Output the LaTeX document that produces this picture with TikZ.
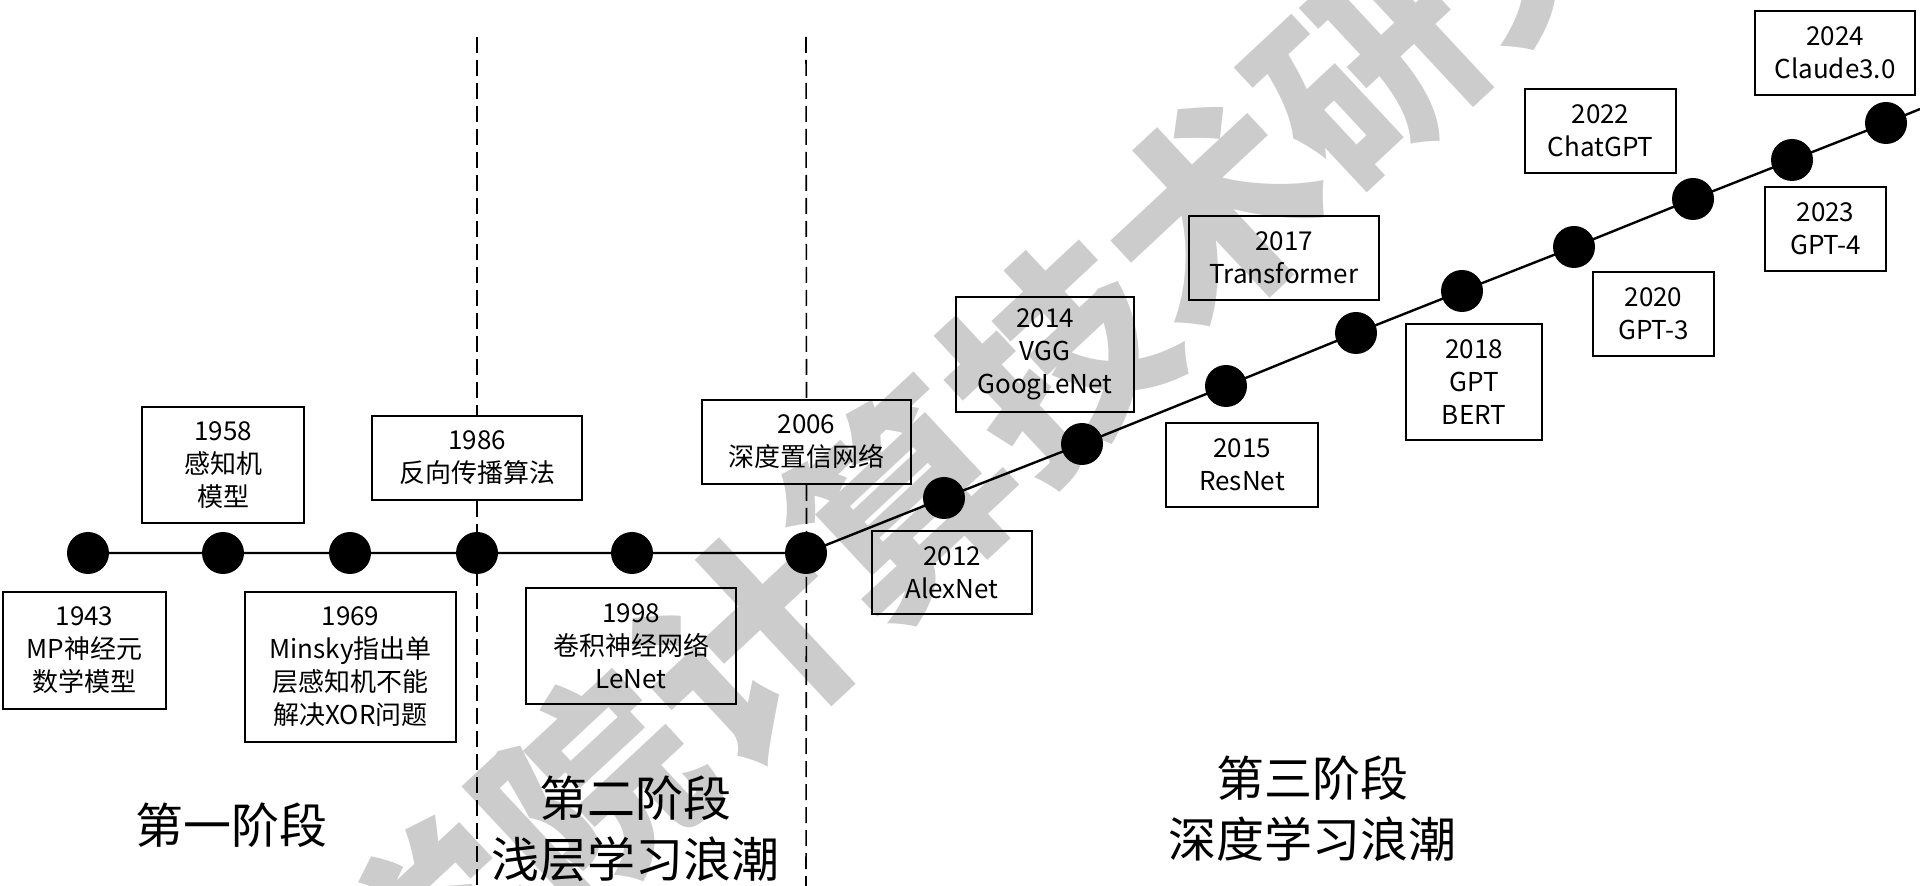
\documentclass[tikz,border=0pt]{standalone}
\usepackage{fontspec}
\setmainfont{Noto Sans CJK SC}
\definecolor{wm}{RGB}{204,204,204}
\begin{document}
\begin{tikzpicture}[x=0.5pt,y=-0.5pt,
  bx/.style n args={2}{draw, line width=1pt, align=center, inner sep=0pt,
     font=\fontsize{13}{16.5}\selectfont, minimum width=#1*0.5pt, minimum height=#2*0.5pt},
  dot/.style={circle, fill=black, minimum size=21pt, inner sep=0pt},
  tl/.style={line width=1.2pt},
  vline/.style={line width=0.8pt, dash pattern=on 8pt off 3.5pt},
  phase/.style={align=center, font=\fontsize{24}{30.5}\selectfont},
  wmark/.style={text=wm, font=\fontsize{106}{106}\selectfont\bfseries}]
\useasboundingbox (0,0) rectangle (1920,886);
% watermark
\node[wmark, rotate=43] (wmk) at (980,430) {科学院计算技术研究所};
% dots
\node[dot] (d1943) at (88,553) {};
\node[dot] (d1958) at (223,553) {};
\node[dot] (d1969) at (350,553) {};
\node[dot] (d1986) at (477,553) {};
\node[dot] (d1998) at (632,553) {};
\node[dot] (d2006) at (806,553) {};
\node[dot] (d2012) at (944,498) {};
\node[dot] (d2014) at (1082,444) {};
\node[dot] (d2015) at (1226,386) {};
\node[dot] (d2017) at (1356,333) {};
\node[dot] (d2018) at (1462,291) {};
\node[dot] (d2020) at (1574,247) {};
\node[dot] (d2022) at (1693,199) {};
\node[dot] (d2023) at (1792,160) {};
\node[dot] (d2024) at (1886,123) {};
\coordinate (tlend) at (1920,109);
% boxes
\node[bx={163}{117}] (b1943) at (84.5,650.5) {1943\\MP神经元\\数学模型};
\node[bx={162}{116}] (b1958) at (223,465) {1958\\感知机\\模型};
\node[bx={211}{150}] (b1969) at (350.5,667) {1969\\Minsky指出单\\层感知机不能\\解决XOR问题};
\node[bx={210}{84}] (b1986) at (477,458) {1986\\反向传播算法};
\node[bx={210}{116}] (b1998) at (631,646) {1998\\卷积神经网络\\LeNet};
\node[bx={209}{84}] (b2006) at (806.5,442) {2006\\深度置信网络};
\node[bx={160}{83}] (b2012) at (952,572.5) {2012\\AlexNet};
\node[bx={178}{115}] (b2014) at (1045,354.5) {2014\\VGG\\GoogLeNet};
\node[bx={152}{84}] (b2015) at (1242,465) {2015\\ResNet};
\node[bx={190}{84}] (b2017) at (1284,258) {2017\\Transformer};
\node[bx={136}{116}] (b2018) at (1474,382) {2018\\GPT\\BERT};
\node[bx={121}{84}] (b2020) at (1653.5,314) {2020\\GPT-3};
\node[bx={151}{84}] (b2022) at (1600.5,131) {2022\\ChatGPT};
\node[bx={121}{84}] (b2023) at (1825.5,229) {2023\\GPT-4};
\node[bx={160}{84}] (b2024) at (1835,53) {2024\\Claude3.0};
% timeline
\draw[tl] (d1943.center) -- (d1958.center) -- (d1969.center) -- (d1986.center)
  -- (d1998.center) -- (d2006.center) -- (d2012.center) -- (d2014.center)
  -- (d2015.center) -- (d2017.center) -- (d2018.center) -- (d2020.center)
  -- (d2022.center) -- (d2023.center) -- (d2024.center) -- (tlend);
% stage separators
\coordinate (v1t) at (477,37);
\coordinate (v1b) at (477,886);
\coordinate (v2t) at (806,37);
\coordinate (v2b) at (806,886);
\draw[vline] (v1t) -- (b1986.north);
\draw[vline] (b1986.south) -- (v1b);
\draw[vline] (v2t) -- (b2006.north);
\draw[vline] (b2006.south) -- (v2b);
% stage labels
\node[phase] (p1) at (231,825) {第一阶段};
\node[phase] (p2) at (635,829) {第二阶段\\浅层学习浪潮};
\node[phase] (p3) at (1312,809) {第三阶段\\深度学习浪潮};
\end{tikzpicture}
\end{document}
